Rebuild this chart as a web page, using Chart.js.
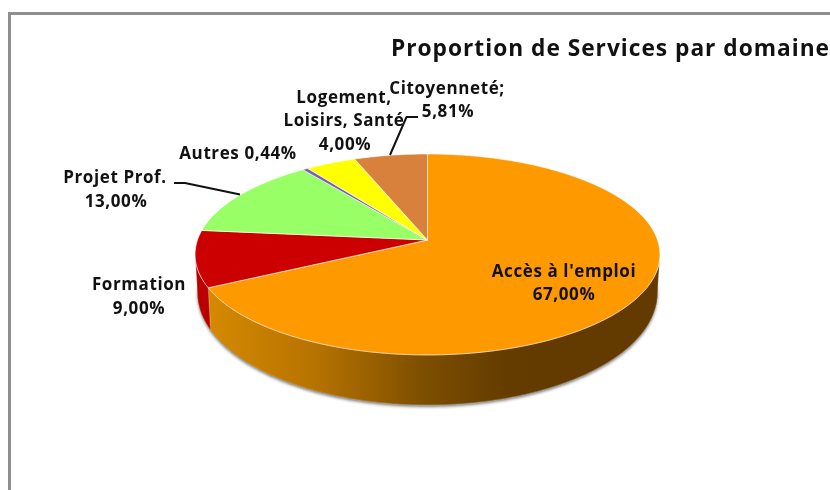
<!DOCTYPE html>
<html lang="fr">
<head>
<meta charset="utf-8">
<title>Proportion de Services par domaine</title>
<script src="https://cdn.jsdelivr.net/npm/chart.js@4"></script>
<style>
html,body{margin:0;padding:0;background:#fff;overflow:hidden}
#wrap{position:absolute;left:0;top:0;width:830px;height:490px}
#frame{position:absolute;left:8px;top:12px;width:840px;height:500px;border:3px solid #8f8f8f;box-sizing:border-box}
canvas{position:absolute;left:0;top:0}
</style>
</head>
<body>
<div id="wrap"><div id="frame"></div><canvas id="c" width="830" height="490"></canvas></div>
<script>
const titleText = "Proportion de Services par domaine";
const categories = ["Accès à l'emploi", "Formation", "Projet Prof.", "Autres", "Logement, Loisirs, Santé", "Citoyenneté"];
const values = [67.00, 9.00, 13.00, 0.44, 4.00, 5.81];
const valueLabels = ["67,00%", "9,00%", "13,00%", "0,44%", "4,00%", "5,81%"];
const colors = ["#FF9900", "#CC0000", "#99FF66", "#7B5FB5", "#FFFF00", "#D8813C"];

const FONT = 'bold 17px "Open Sans", sans-serif';
const K = 0.144;
const TOP = {cx:427.5, cy:240, a:230, b:98.4};
const BASE = {cx:427.5, cy:276.5, a:227.6, b:110};
const WALL_FROM = 8.4 * Math.PI/180, WALL_TO = 171.6 * Math.PI/180;

function project(d, ang){
  const u = Math.cos(ang), v = Math.sin(ang), w = 1 - K*v;
  return [d.cx + d.a*u/w, d.cy + d.b*v/w];
}
function rim(ctx, d, a0, a1){
  const n = Math.max(2, Math.ceil(Math.abs(a1-a0)/(Math.PI/180)));
  for(let i=0;i<=n;i++){
    const p = project(d, a0+(a1-a0)*i/n);
    ctx.lineTo(p[0], p[1]);
  }
}
function wallGradient(ctx){
  const g = ctx.createLinearGradient(205,0,560,0);
  g.addColorStop(0,"#D68A00");
  g.addColorStop(0.3,"#B87400");
  g.addColorStop(0.62,"#7C4E00");
  g.addColorStop(0.85,"#643C00");
  g.addColorStop(1,"#633B00");
  return g;
}

const pie3d = {
  id:"pie3d",
  beforeDraw(chart){
    chart.ctx.letterSpacing = "1px";
  },
  beforeDatasetsDraw(chart){
    const ctx = chart.ctx, arcs = chart.getDatasetMeta(0).data;
    ctx.save();
    ctx.save();
    ctx.shadowColor = "rgba(90,90,90,0.75)";
    ctx.shadowBlur = 3; ctx.shadowOffsetX = 0; ctx.shadowOffsetY = 2;
    ctx.fillStyle = "#663c00";
    ctx.beginPath(); rim(ctx, BASE, WALL_FROM-0.1, WALL_TO+0.1); ctx.closePath(); ctx.fill();
    ctx.restore();
    arcs.forEach((el,i)=>{
      const s0 = Math.max(el.startAngle, WALL_FROM), s1 = Math.min(el.endAngle, WALL_TO);
      if(s1>s0){
        ctx.beginPath();
        rim(ctx, TOP, s0, s1);
        rim(ctx, BASE, s1, s0);
        ctx.closePath();
        ctx.fillStyle = i===0 ? wallGradient(ctx) : "#B80000";
        ctx.fill();
        ctx.strokeStyle = "rgba(255,255,255,0.35)";
        ctx.lineWidth = 0.7;
        ctx.stroke();
      }
    });
    arcs.forEach((el,i)=>{
      ctx.beginPath();
      ctx.moveTo(TOP.cx, TOP.cy);
      rim(ctx, TOP, el.startAngle, el.endAngle);
      ctx.closePath();
      ctx.fillStyle = colors[i];
      ctx.fill();
      ctx.strokeStyle = "rgba(255,255,255,0.75)";
      ctx.lineWidth = 0.8;
      ctx.stroke();
    });
    ctx.restore();
    return false;
  },
  afterDraw(chart){
    const ctx = chart.ctx;
    ctx.save();
    ctx.letterSpacing = "0.6px";
    ctx.strokeStyle = "#111"; ctx.lineWidth = 2; ctx.lineJoin = "round";
    [[[174,183],[185,183],[240,194.5]], [[390,155],[406.5,117],[418,117]]].forEach(l=>{
      ctx.beginPath();
      l.forEach((p,i)=> i ? ctx.lineTo(p[0],p[1]) : ctx.moveTo(p[0],p[1]));
      ctx.stroke();
    });
    ctx.font = FONT; ctx.fillStyle = "#111";
    ctx.textAlign = "center"; ctx.textBaseline = "middle";
    const put = (t,x,y)=>ctx.fillText(t,x,y);
    put(categories[0],564,272); put(valueLabels[0],564,295);
    put(categories[1],139,285); put(valueLabels[1],139,309);
    put(categories[2],115,178); put(valueLabels[2],116,202);
    put(categories[3]+" "+valueLabels[3],238,154);
    put("Logement,",344,98); put("Loisirs, Santé",344,121); put(valueLabels[4],345,145);
    put(categories[5]+";",447,89); put(valueLabels[5],448,112);
    ctx.restore();
  }
};

new Chart(document.getElementById("c"), {
  type:"pie",
  plugins:[pie3d],
  data:{labels:categories, datasets:[{data:values, backgroundColor:colors}]},
  options:{
    responsive:false, animation:false,
    layout:{padding:{left:391,top:36}},
    plugins:{
      legend:{display:false}, tooltip:{enabled:false},
      title:{display:true, text:titleText, align:"start", fullSize:false, color:"#111",
             font:{family:'"Open Sans", sans-serif', size:23, weight:"bold"}, padding:{top:0,bottom:0}}
    }
  }
});
</script>
</body>
</html>
